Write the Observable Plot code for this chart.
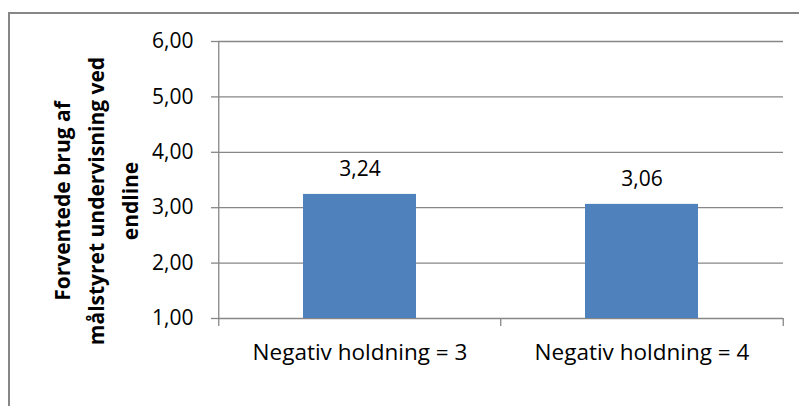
<!DOCTYPE html>
<html><head><meta charset="utf-8">
<script src="https://cdn.jsdelivr.net/npm/d3@7"></script>
<script src="https://cdn.jsdelivr.net/npm/@observablehq/plot@0.6"></script>
<style>
html,body{margin:0;padding:0;background:#fff;}
#wrap{position:relative;width:799px;height:406px;overflow:hidden;background:#fff;}
#wrap svg{position:absolute;left:0;top:0;z-index:1;}
#border{position:absolute;left:8px;top:12px;width:900px;height:500px;border-left:2px solid #878787;border-top:2px solid #878787;box-sizing:border-box;z-index:2;pointer-events:none;}
</style></head><body><div id="wrap"></div>
<script>
const categories = ["Negativ holdning = 3", "Negativ holdning = 4"];
const values = [3.24, 3.06];
const yTicks = [1, 2, 3, 4, 5, 6];
const yTitle = "Forventede brug af\nmålstyret undervisning ved\nendline";

const data = categories.map((c, i) => ({cat: c, value: values[i]}));
const fmt = d => d.toFixed(2).replace(".", ",");
const W = 799, H = 406, ML = 218, MR = 16, MT = 41, MB = 88;
const xStep = (W - ML - MR) / categories.length;
const yMin = yTicks[0], yMax = yTicks[yTicks.length - 1];
const font = "'Open Sans', 'Noto Sans', sans-serif";
const grey = "#878787";

const chart = Plot.plot({
  width: W, height: H,
  marginLeft: ML, marginRight: MR, marginTop: MT, marginBottom: MB,
  style: {background: "transparent", fontFamily: font, color: "#000"},
  x: {domain: categories, paddingInner: 0.6, paddingOuter: 0.3, axis: null, label: null},
  y: {domain: [yMin, yMax], axis: null, label: null},
  marks: [
    Plot.gridY(yTicks, {stroke: grey, strokeOpacity: 1, strokeWidth: 1.3}),
    Plot.axisY(yTicks, {tickSize: 7, tickPadding: 18, tickFormat: fmt, fontSize: 21, stroke: grey, strokeOpacity: 1, strokeWidth: 1.3, fill: "#000", label: null}),
    Plot.axisX({tickSize: 0, tickPadding: 26, fontSize: 22.5, fill: "#000", label: null}),
    Plot.ruleX([categories[0]], {x: d => d, y1: () => yMax, y2: () => yMin, dx: -xStep / 2, insetBottom: -8, stroke: grey, strokeWidth: 1.3}),
    Plot.ruleX(categories.slice(1), {x: d => d, y1: () => yMin, y2: () => yMin, dx: -xStep / 2, insetBottom: -8, stroke: grey, strokeWidth: 1.3}),
    Plot.ruleX([categories[categories.length - 1]], {x: d => d, y1: () => yMin, y2: () => yMin, dx: xStep / 2, insetBottom: -8, stroke: grey, strokeWidth: 1.3}),
    Plot.barY(data, {x: "cat", y1: () => yMin, y2: "value", fill: "#4F81BD"}),
    Plot.text(data, {x: "cat", y: "value", text: d => fmt(d.value), dy: -25, fontSize: 21, fill: "#000"}),
    Plot.text([yTitle], {frameAnchor: "left", textAnchor: "middle", lineAnchor: "middle", text: d => d, rotate: -90, dx: -125, dy: 21, fontSize: 21, fontWeight: "bold", lineHeight: 1.62, fill: "#000"})
  ]
});
const wrap = document.getElementById("wrap");
wrap.appendChild(chart);
const b = document.createElement("div");
b.id = "border";
wrap.appendChild(b);
</script>
</body></html>
